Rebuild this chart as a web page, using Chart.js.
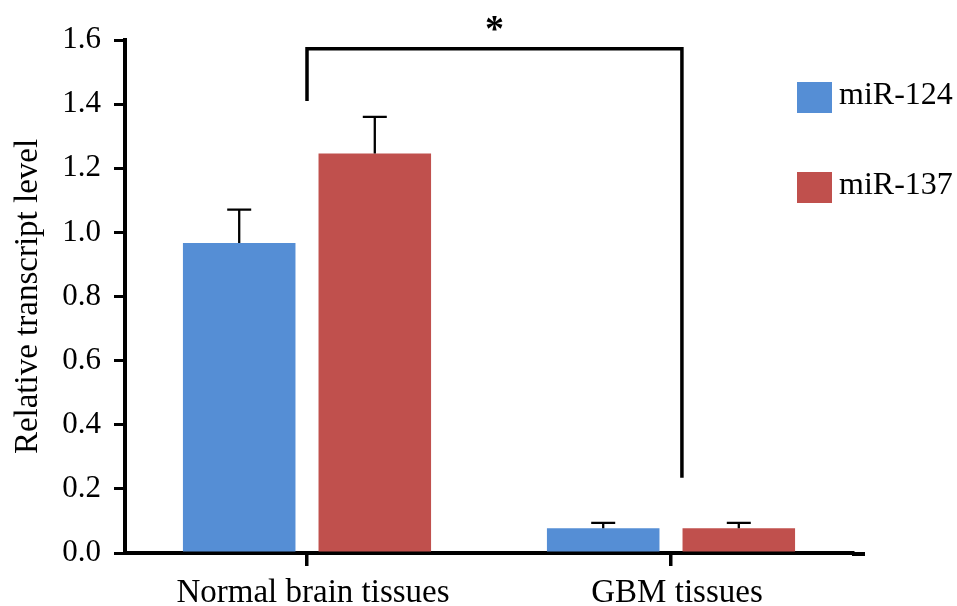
<!DOCTYPE html>
<html><head><meta charset="utf-8">
<script src="https://cdn.jsdelivr.net/npm/chart.js@4.4.0/dist/chart.umd.min.js"></script>
<style>html,body{margin:0;padding:0;background:#fff;} #wrap{width:957px;height:606px;}</style>
</head><body><div id="wrap"><canvas id="c" width="957" height="606"></canvas></div>
<script>
const categories = ['Normal brain tissues', 'GBM tissues'];
const seriesNames = ['miR-124', 'miR-137'];
const mir124 = [0.967, 0.077];
const mir137 = [1.246, 0.077];
const mir124Err = [0.104, 0.017];
const mir137Err = [0.114, 0.017];
const yTickLabels = ['0.0','0.2','0.4','0.6','0.8','1.0','1.2','1.4','1.6'];
const bracketLevels = [1.41, 1.573, 0.235]; // left end, top bar, right end
const bracketCats = [0, 1.03];
const sigLabel = '*';

const FONT = "'Liberation Serif', 'Times New Roman', serif";
const colors = ['#558ED5', '#C0504D'];
const errors = [mir124Err, mir137Err];

const errorBarPlugin = {
  id: 'errorBars',
  afterDatasetsDraw(chart) {
    const ctx = chart.ctx, y = chart.scales.y;
    ctx.save();
    ctx.strokeStyle = '#000';
    ctx.lineWidth = 2.3;
    chart.data.datasets.forEach((ds, i) => {
      const meta = chart.getDatasetMeta(i);
      meta.data.forEach((bar, j) => {
        const top = y.getPixelForValue(ds.data[j] + errors[i][j]);
        ctx.beginPath();
        ctx.moveTo(bar.x, bar.y);
        ctx.lineTo(bar.x, top);
        ctx.moveTo(bar.x - 12, top);
        ctx.lineTo(bar.x + 12, top);
        ctx.stroke();
      });
    });
    ctx.restore();
  }
};

const bracketPlugin = {
  id: 'bracket',
  afterDraw(chart) {
    const ctx = chart.ctx, x = chart.scales.x, y = chart.scales.y;
    const xL = x.getPixelForValue(bracketCats[0]);
    const xR = x.getPixelForValue(bracketCats[1]);
    const yL = y.getPixelForValue(bracketLevels[0]);
    const yT = y.getPixelForValue(bracketLevels[1]);
    const yR = y.getPixelForValue(bracketLevels[2]);
    ctx.save();
    ctx.strokeStyle = '#000';
    ctx.lineWidth = 3.5;
    ctx.lineCap = 'butt';
    ctx.lineJoin = 'miter';
    ctx.beginPath();
    ctx.moveTo(xL, yL);
    ctx.lineTo(xL, yT);
    ctx.lineTo(xR, yT);
    ctx.lineTo(xR, yR);
    ctx.stroke();
    ctx.fillStyle = '#000';
    ctx.font = 'bold 38px ' + FONT;
    ctx.textAlign = 'center';
    ctx.textBaseline = 'middle';
    ctx.fillText(sigLabel, (xL + xR) / 2, yT - 17);
    // extend x axis line slightly past the last category
    const ca = chart.chartArea;
    ctx.lineWidth = 4;
    ctx.beginPath();
    ctx.moveTo(ca.right - 1, ca.bottom + 1);
    ctx.lineTo(ca.right + 12, ca.bottom + 1);
    ctx.stroke();
    ctx.restore();
  }
};

const legendPlugin = {
  id: 'sideLegend',
  afterDraw(chart) {
    const ctx = chart.ctx;
    ctx.save();
    ctx.font = '32px ' + FONT;
    ctx.textBaseline = 'middle';
    ctx.textAlign = 'left';
    chart.data.datasets.forEach((ds, i) => {
      const bx = 797, by = 82 + i * 90;
      ctx.fillStyle = ds.backgroundColor;
      ctx.fillRect(bx, by, 35, 31);
      ctx.fillStyle = '#000';
      ctx.fillText(ds.label, 839, by + 14);
    });
    ctx.restore();
  }
};

new Chart(document.getElementById('c'), {
  type: 'bar',
  data: {
    labels: categories,
    datasets: [
      { label: seriesNames[0], data: mir124, backgroundColor: colors[0], barPercentage: 0.83, categoryPercentage: 0.745 },
      { label: seriesNames[1], data: mir137, backgroundColor: colors[1], barPercentage: 0.83, categoryPercentage: 0.745 }
    ]
  },
  options: {
    responsive: false,
    devicePixelRatio: 1,
    animation: false,
    layout: { padding: { top: 40, right: 104, left: 0, bottom: 0 } },
    plugins: { legend: { display: false }, tooltip: { enabled: false } },
    scales: {
      x: {
        offset: true,
        grid: { display: true, offset: false, drawOnChartArea: false, drawTicks: true, tickLength: 13, lineWidth: 3.5, color: '#000' },
        border: { display: true, color: '#000', width: 4 },
        ticks: { color: '#000', font: { family: FONT, size: 33 }, padding: 8, maxRotation: 0, labelOffset: 6 },
        afterFit(s) { s.height = 53; }
      },
      y: {
        min: 0, max: 1.6,
        grid: { display: true, drawOnChartArea: false, drawTicks: true, tickLength: 11, lineWidth: 3, color: '#000' },
        border: { display: true, color: '#000', width: 4 },
        ticks: { stepSize: 0.2, color: '#000', font: { family: FONT, size: 31 }, padding: 13,
          callback: (v, i) => yTickLabels[i] },
        title: { display: true, text: 'Relative transcript level', color: '#000', font: { family: FONT, size: 33 }, padding: { top: 9, bottom: 0 } },
        afterFit(s) { s.width = 125; }
      }
    }
  },
  plugins: [errorBarPlugin, bracketPlugin, legendPlugin]
});
</script></body></html>
